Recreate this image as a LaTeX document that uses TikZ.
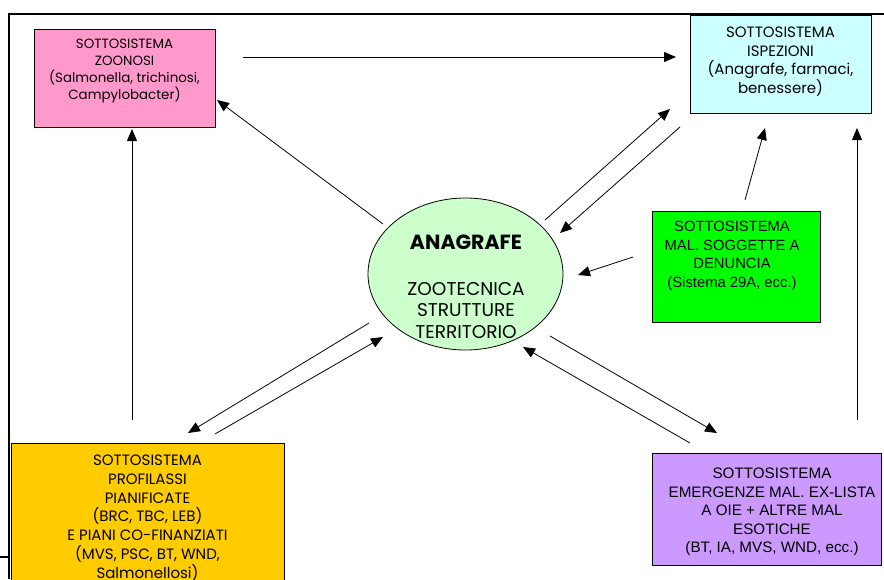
\documentclass[tikz,border=0pt]{standalone}
\usepackage{fontspec}
\setmainfont{Poppins}
\newfontfamily\arialfont{Liberation Sans}
\usetikzlibrary{shapes.geometric,arrows.meta}

\definecolor{zoopink}{HTML}{FF99CC}
\definecolor{ispcyan}{HTML}{CCFFFF}
\definecolor{anagreen}{HTML}{CCFFCC}
\definecolor{dengreen}{HTML}{00FF00}
\definecolor{progold}{HTML}{FFCC00}
\definecolor{emelilac}{HTML}{CC99FF}

\tikzset{
  sbox/.style={draw=black, line width=0.8pt, inner sep=0pt},
  stxt/.style={align=center, inner sep=0pt, font=\fontsize{15}{18.7}\selectfont},
  atxt/.style={align=center, inner sep=0pt, font=\arialfont\fontsize{15.2}{18.6}\selectfont},
  link/.style={-{Triangle[length=12pt,width=10pt]}, line width=0.8pt},
}

\begin{document}
\begin{tikzpicture}[x=1pt, y=-1pt]
  \useasboundingbox (0,0) rectangle (884,579);
  % outer frame
  \draw[line width=1.6pt] (9,579) -- (9,14) -- (884,14);
  \draw[line width=1.6pt] (0,557) -- (9,557);

  % subsystem boxes
  \node[sbox, fill=zoopink, minimum width=181pt, minimum height=98pt] (zoo) at (124.5,78) {};
  \node[sbox, fill=ispcyan, minimum width=181pt, minimum height=98pt] (isp) at (780.5,64) {};
  \node[sbox, fill=dengreen, minimum width=168pt, minimum height=111pt] (den) at (736,266.5) {};
  \node[sbox, fill=progold, minimum width=273pt, minimum height=157pt] (pro) at (147.5,521.5) {};
  \node[sbox, fill=emelilac, minimum width=229pt, minimum height=112pt] (eme) at (766.5,509) {};
  \node[sbox, ellipse, fill=anagreen, minimum width=195pt, minimum height=152pt] (ana) at (465.5,274) {};

  % texts
  \node[stxt, font=\fontsize{13.4}{17}\selectfont] (zoo-txt) at (124.5,71)
    {SOTTOSISTEMA\\ZOONOSI\\(Salmonella, trichinosi,\\Campylobacter)};
  \node[stxt] (isp-txt) at (780.5,61.5)
    {SOTTOSISTEMA\\ISPEZIONI\\(Anagrafe, farmaci,\\benessere)};
  \node[atxt, font=\arialfont\fontsize{14.8}{18.5}\selectfont] (den-txt) at (732,256)
    {SOTTOSISTEMA\\MAL. SOGGETTE A\\DENUNCIA\\(Sistema 29A, ecc.)};
  \node[stxt] (pro-txt) at (147.5,518)
    {SOTTOSISTEMA\\PROFILASSI\\PIANIFICATE\\(BRC, TBC, LEB)\\E PIANI CO-FINANZIATI\\(MVS, PSC, BT, WND,\\Salmonellosi)};
  \node[atxt] (eme-txt) at (772,512)
    {SOTTOSISTEMA\\EMERGENZE MAL. EX-LISTA\\A OIE + ALTRE MAL\\ESOTICHE\\(BT, IA, MVS, WND, ecc.)};
  \node[stxt, font=\fontsize{18.5}{21.5}\selectfont] (ana-txt) at (466,287)
    {{\fontsize{20.5}{22}\selectfont\bfseries ANAGRAFE}\\[24pt]ZOOTECNICA\\STRUTTURE\\TERRITORIO};

  % connector ends
  \coordinate (zoo-out) at (243,57);
  \coordinate (isp-in) at (676,57);
  \coordinate (ana-nw) at (383,224);
  \coordinate (zoo-se) at (217,100);
  \coordinate (pro-up) at (132,420);
  \coordinate (zoo-s) at (132,129);
  \coordinate (ana-ne1) at (545,220);
  \coordinate (isp-sw1) at (670,109);
  \coordinate (isp-sw2) at (680,127);
  \coordinate (ana-ne2) at (560,233);
  \coordinate (den-up) at (745,200);
  \coordinate (isp-s) at (765,128);
  \coordinate (den-left) at (633,257);
  \coordinate (ana-e) at (578,275);
  \coordinate (eme-up) at (857,420);
  \coordinate (isp-se) at (857,128);
  \coordinate (ana-se1) at (550,336);
  \coordinate (eme-nw1) at (717,433);
  \coordinate (eme-nw2) at (690,443);
  \coordinate (ana-se2) at (523,347);
  \coordinate (ana-sw1) at (369,323);
  \coordinate (pro-ne1) at (188,433);
  \coordinate (pro-ne2) at (215,434);
  \coordinate (ana-sw2) at (383,337);

  % relations
  \draw[link] (zoo-out) -- (isp-in);
  \draw[link] (ana-nw) -- (zoo-se);
  \draw[link] (pro-up) -- (zoo-s);
  \draw[link] (ana-ne1) -- (isp-sw1);
  \draw[link] (isp-sw2) -- (ana-ne2);
  \draw[link] (den-up) -- (isp-s);
  \draw[link] (den-left) -- (ana-e);
  \draw[link] (eme-up) -- (isp-se);
  \draw[link] (ana-se1) -- (eme-nw1);
  \draw[link] (eme-nw2) -- (ana-se2);
  \draw[link] (ana-sw1) -- (pro-ne1);
  \draw[link] (pro-ne2) -- (ana-sw2);
\end{tikzpicture}
\end{document}
